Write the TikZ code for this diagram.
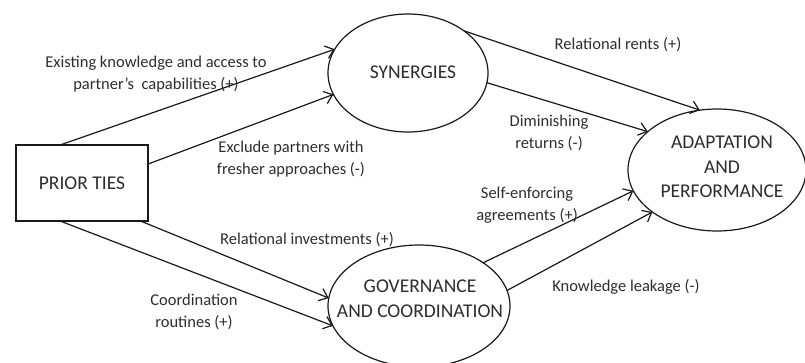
\documentclass[tikz,border=0pt]{standalone}
\usepackage{fontspec}
\setmainfont{Carlito}
\usetikzlibrary{arrows.meta,shapes.geometric}
\definecolor{ink}{RGB}{25,25,25}
\definecolor{txt}{RGB}{45,45,45}
\begin{document}
\begin{tikzpicture}[x=1pt,y=-1pt,
  every node/.style={inner sep=0pt,outer sep=0pt},
  boxnode/.style={draw=ink,line width=1.2pt,rectangle,minimum width=132pt,minimum height=76pt},
  ovalnode/.style={draw=ink,line width=1.2pt,ellipse},
  bigtext/.style={text=txt,align=center,font=\fontsize{19.5}{24.5}\selectfont},
  edgetext/.style={text=txt,align=center,font=\fontsize{16.5}{21.5}\selectfont},
  link/.style={draw=ink,line width=1.2pt,-{Straight Barb[length=8pt,width=13pt,line width=1.2pt]}}]
\useasboundingbox (0,0) rectangle (805,362);

% boxes and ovals
\node[boxnode] (prior) at (82,183) {};
\node[bigtext] (priorT) at (82,183) {PRIOR TIES};
\node[ovalnode,minimum width=160pt,minimum height=118pt] (syn) at (408,73) {};
\node[bigtext] (synT) at (413,72) {SYNERGIES};
\node[ovalnode,minimum width=182pt,minimum height=122pt] (gov) at (419,306) {};
\node[bigtext] (govT) at (420,298.5) {GOVERNANCE\\AND COORDINATION};
\node[ovalnode,minimum width=178pt,minimum height=122pt] (adp) at (717,170) {};
\node[bigtext] (adpT) at (722,167) {ADAPTATION\\AND\\PERFORMANCE};

% connectors
\draw[link] (prior.120) -- (syn.162.3);
\draw[link] (prior.16.9) -- (syn.196.3);
\draw[link] (prior.240) -- (gov.193.3);
\draw[link] (prior.327) -- (gov.175);
\draw[link] (syn.37) -- (adp.106.8);
\draw[link] (syn.353) -- (adp.151.6);
\draw[link] (gov.34.9) -- (adp.194.2);
\draw[link] (gov.10) -- (adp.213.9);

% connector labels
\node[edgetext] (l1) at (156,74) {Existing knowledge and access to\\partner’s~ capabilities (+)};
\node[edgetext] (l2) at (291,159) {Exclude partners with\\fresher approaches (-)};
\node[edgetext] (l3) at (618,45) {Relational rents (+)};
\node[edgetext] (l4) at (549,133) {Diminishing\\returns (-)};
\node[edgetext] (l5) at (307,240) {Relational investments (+)};
\node[edgetext] (l6) at (194,312) {Coordination\\routines (+)};
\node[edgetext] (l7) at (527,205) {Self-enforcing\\agreements (+)};
\node[edgetext] (l8) at (626,287) {Knowledge leakage (-)};
\end{tikzpicture}
\end{document}
